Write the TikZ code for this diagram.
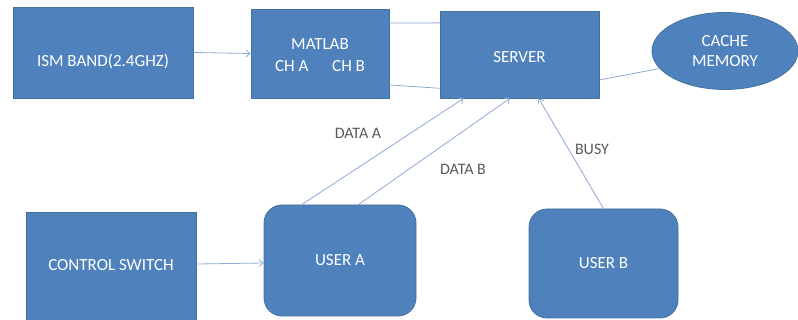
\documentclass[tikz,border=0pt]{standalone}
\usepackage{fontspec}
\setmainfont{Carlito}
\usetikzlibrary{shapes.geometric,arrows.meta,calc}
\definecolor{boxfill}{HTML}{4F81BD}
\definecolor{boxline}{HTML}{41719C}
\definecolor{wire}{HTML}{8EA9D6}
\definecolor{labelgray}{HTML}{595959}
\tikzset{
  block/.style={draw=boxline, line width=0.8pt, fill=boxfill, text=white,
    font=\fontsize{17}{22}\selectfont, align=center, inner sep=0pt},
  blocktext/.style={text=white, font=\fontsize{17}{22}\selectfont, align=center, inner sep=0pt},
  userbox/.style={block, rounded corners=18pt},
  memory/.style={block, ellipse},
  wireline/.style={draw=wire, line width=0.8pt},
  wirearrow/.style={wireline, -{Straight Barb[length=4pt,width=7pt]}},
  tag/.style={text=labelgray, font=\fontsize{16}{18}\selectfont, inner sep=0pt}
}
\begin{document}
\begin{tikzpicture}[x=1pt, y=-1pt]
  \useasboundingbox (0,0) rectangle (798,320);
  \clip (0,0) rectangle (798,320);
  % boxes
  \node[block, minimum width=180pt, minimum height=91pt] (ism) at (103,52.5) {};
  \node[blocktext] (ismtext) at ($(ism.center)+(0,9)$) {ISM BAND(2.4GHZ)};
  \node[block, minimum width=138pt, minimum height=89pt] (matlab) at (320,53.5) {};
  \node[blocktext] (matlabtext) at ($(matlab.center)+(0,1.5)$)
    {MATLAB\\CH A\hspace{1.4em}CH B};
  \node[block, minimum width=159pt, minimum height=87pt] (server) at (519.5,54.5) {};
  \node[blocktext] (servertext) at ($(server.center)+(0,2.5)$) {SERVER};
  \node[memory, minimum width=146pt, minimum height=77pt] (cache) at (725,51) {CACHE\\[-2pt]MEMORY};
  \node[block, minimum width=170pt, minimum height=112pt] (control) at (111,268) {};
  \node[blocktext] (controltext) at ($(control.center)+(0,-3)$) {CONTROL SWITCH};
  \node[userbox, minimum width=152pt, minimum height=111pt] (usera) at (340,260.5) {USER A};
  \node[userbox, minimum width=149pt, minimum height=109pt] (userb) at (603.5,263.5) {USER B};
  % connectors
  \draw[wirearrow] (ism.east) -- (matlab.west);
  \draw[wireline] ($(matlab.north east)!0.16!(matlab.south east)$) -- ($(server.north west)!0.14!(server.south west)$);
  \draw[wireline] ($(matlab.north east)!0.85!(matlab.south east)$) -- ($(server.north west)!0.885!(server.south west)$);
  \draw[wireline] ($(server.north east)!0.79!(server.south east)$) -- (cache.195);
  \draw[wirearrow] ($(usera.north west)!0.25!(usera.north east)$) -- ($(server.south west)!0.15!(server.south east)$);
  \draw[wirearrow] ($(usera.north west)!0.62!(usera.north east)$) -- ($(server.south west)!0.44!(server.south east)$);
  \draw[wirearrow] (userb.north) -- ($(server.south west)!0.62!(server.south east)$);
  \draw[wirearrow] (control.east |- 0,264) -- (usera.west |- 0,263);
  % labels
  \node[tag] (dataa) at (358,133) {DATA A};
  \node[tag] (datab) at (463,169) {DATA B};
  \node[tag] (busy) at (592,149) {BUSY};
\end{tikzpicture}
\end{document}
